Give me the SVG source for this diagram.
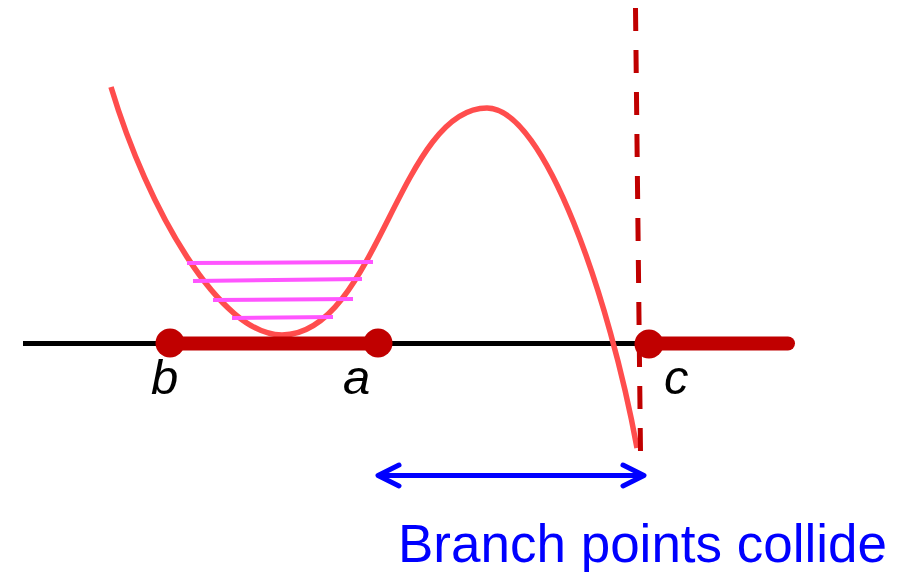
<svg xmlns="http://www.w3.org/2000/svg" width="918" height="572" viewBox="0 0 918 572">
<style>
.axis{stroke:#000;stroke-width:5;fill:none}
.curve{stroke:#ff4d4d;stroke-width:5.5;fill:none}
.level{stroke:#ff55ff;stroke-width:4;fill:none}
.cut{stroke:#c00000;stroke-width:14;stroke-linecap:round;fill:none}
.pt{fill:#c00000}
.dash{stroke:#c00000;stroke-width:5;stroke-dasharray:23 19;fill:none}
.arrow{stroke:#0000ff;stroke-width:5;stroke-linecap:round;stroke-linejoin:round;fill:none}
.lbl{font-family:"Liberation Sans",Arial,sans-serif;font-style:italic;font-size:49px;fill:#000}
.cap{font-family:"Liberation Sans",Arial,sans-serif;font-size:53px;fill:#0000ff}
</style>
<rect width="918" height="572" fill="#fff"/>
<g id="axis"><line class="axis" x1="23" y1="343.5" x2="645" y2="343.5"/></g>
<g id="potential"><path class="curve" d="M111,87 C148,210 220,335 282,335 C376,335 400,108 487,108 C545,108 610,300 637,448"/></g>
<g id="levels">
<line class="level" x1="187" y1="263" x2="373" y2="262"/>
<line class="level" x1="193" y1="281" x2="362" y2="279"/>
<line class="level" x1="213" y1="300" x2="353" y2="299"/>
<line class="level" x1="232" y1="318" x2="333" y2="317"/>
</g>
<g id="cuts">
<line class="cut" x1="170" y1="343.5" x2="378" y2="343.5"/>
<line class="cut" x1="648" y1="343.5" x2="788" y2="343.5"/>
</g>
<g id="dashed-line"><line class="dash" x1="635.5" y1="8" x2="640.5" y2="452"/></g>
<g id="point-b"><circle class="pt" cx="170" cy="343" r="14.5"/><text class="lbl" x="151" y="394">b</text></g>
<g id="point-a"><circle class="pt" cx="378" cy="343" r="14.5"/><text class="lbl" x="343" y="394">a</text></g>
<g id="point-c"><circle class="pt" cx="649" cy="344" r="14.5"/><text class="lbl" x="664" y="394">c</text></g>
<g id="connectors">
<line class="arrow" x1="380" y1="475.5" x2="642" y2="475.5"/>
<polyline class="arrow" points="399,465 378,475.5 399,486"/>
<polyline class="arrow" points="623,465 644,475.5 623,486"/>
</g>
<g id="caption"><text class="cap" x="398" y="562">Branch points collide</text></g>
</svg>
